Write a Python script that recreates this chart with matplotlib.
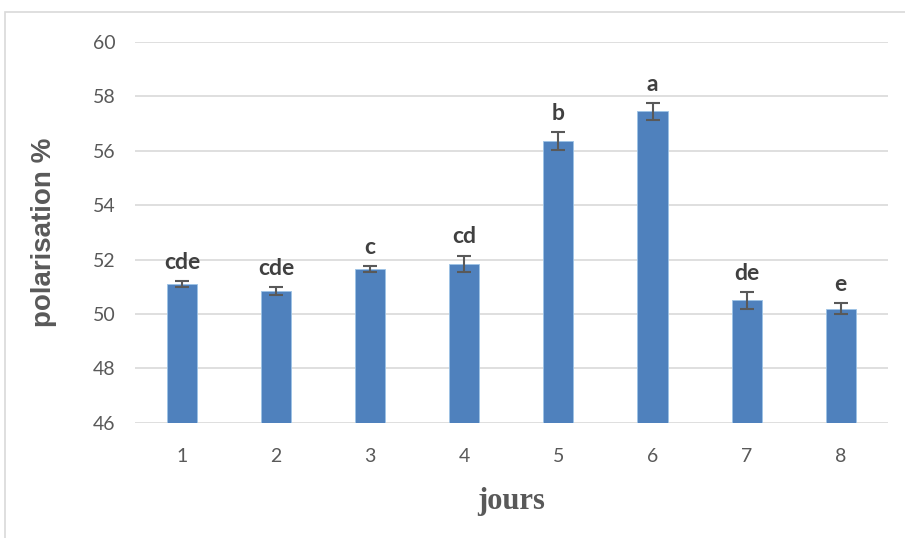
import matplotlib.pyplot as plt
from matplotlib.patches import Rectangle

# mean polarisation per day, with standard error and significance letters
jours = [1, 2, 3, 4, 5, 6, 7, 8]
polarisation = [51.1, 50.85, 51.65, 51.85, 56.35, 57.45, 50.5, 50.2]
erreur = [0.1, 0.15, 0.1, 0.3, 0.33, 0.3, 0.32, 0.2]
lettres = ["cde", "cde", "c", "cd", "b", "a", "de", "e"]

fig = plt.figure(figsize=(9.05, 5.38), dpi=100)
ax = fig.add_axes([0.149, 0.214, 0.832, 0.708])

# light frame round the chart area
fig.patches.append(Rectangle((0.006, -0.01), 1.0, 0.988, transform=fig.transFigure,
                             fill=False, edgecolor="#d9d9d9", lw=1.2))

ax.bar(jours, [v - 46 for v in polarisation], bottom=46, width=0.32,
       color="#4f81bd", edgecolor="#9dc3e6", linewidth=0.6, zorder=2)
ax.errorbar(jours, polarisation, yerr=erreur, fmt="none", ecolor="#595959",
            elinewidth=1.5, capsize=5, capthick=1.5, zorder=3)

for x, y, e, lab in zip(jours, polarisation, erreur, lettres):
    ax.text(x, y + e + 0.3, lab, ha="center", va="bottom", fontsize=16.5,
            fontweight="bold", color="#404040", family="Lato")

ax.set_xlim(0.5, 8.5)
ax.set_ylim(46, 60)
ax.set_yticks(range(46, 61, 2))
ax.set_xticks(jours)
ax.grid(axis="y", color="#d9d9d9", lw=1.2, zorder=0)
ax.set_axisbelow(True)
for s in ax.spines.values():
    s.set_visible(False)
ax.tick_params(axis="y", length=0, labelsize=14, labelcolor="#595959", pad=14)
ax.tick_params(axis="x", length=0, labelsize=14, labelcolor="#595959", pad=18)
for t in ax.get_xticklabels() + ax.get_yticklabels():
    t.set_family("Lato")

ax.set_ylabel("polarisation %", fontsize=20, fontweight="bold", color="#595959",
              family="Liberation Sans", labelpad=26)
ax.set_xlabel("jours", fontsize=22, fontweight="bold", color="#595959",
              family="Liberation Serif", labelpad=16)

plt.savefig("out.png", dpi=100)
